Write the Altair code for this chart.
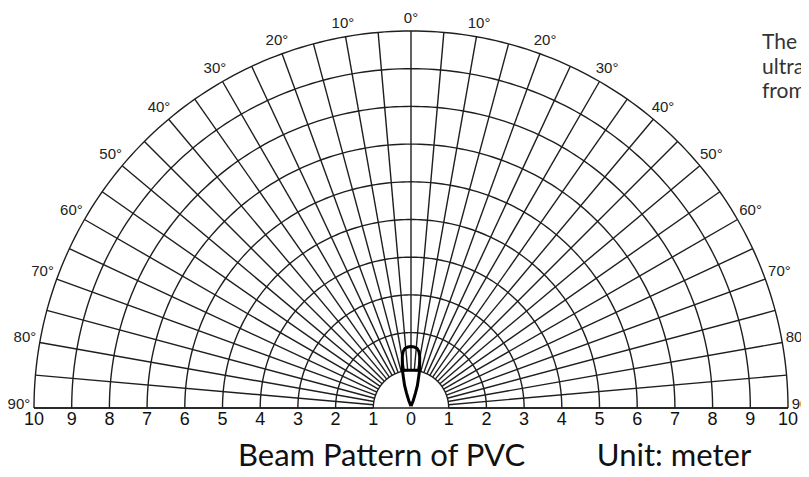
import altair as alt
import pandas as pd
import numpy as np

# ---- data ----
ring_radii = [1, 2, 3, 4, 5, 6, 7, 8, 9, 10]
spoke_angles = list(range(-90, 91, 5))
angle_label_values = [-90, -80, -70, -60, -50, -40, -30, -20, -10, 0, 10, 20, 30, 40, 50, 60, 70, 80, 90]
angle_label_text = ["90°", "80°", "70°", "60°", "50°", "40°", "30°", "20°", "10°", "0°",
                    "10°", "20°", "30°", "40°", "50°", "60°", "70°", "80°", "90°"]
tick_values = [-10, -9, -8, -7, -6, -5, -4, -3, -2, -1, 0, 1, 2, 3, 4, 5, 6, 7, 8, 9, 10]
tick_text = ["10", "9", "8", "7", "6", "5", "4", "3", "2", "1", "0",
             "1", "2", "3", "4", "5", "6", "7", "8", "9", "10"]

# beam pattern outline (meters): lower lobe with neck, and upper cap
beam_body_x = [0.0, 0.06, 0.12, 0.17, 0.20, 0.22, 0.23, -0.23, -0.22, -0.20, -0.17, -0.12, -0.06, 0.0]
beam_body_y = [0.05, 0.20, 0.40, 0.60, 0.80, 0.95, 1.00, 1.00, 0.95, 0.80, 0.60, 0.40, 0.20, 0.05]
beam_cap_x = [-0.23, -0.23, -0.21, -0.16, -0.08, 0.0, 0.08, 0.16, 0.21, 0.23, 0.23]
beam_cap_y = [1.00, 1.38, 1.50, 1.58, 1.62, 1.63, 1.62, 1.58, 1.50, 1.38, 1.00]

side_text = ["The", "ultra", "from"]
title_text = ["Beam Pattern of PVC", "Unit: meter"]

# ---- frames ----
R = 10
arc_rows = []
for r in ring_radii:
    for a in np.arange(-90, 90.5, 1.0):
        t = np.radians(a)
        arc_rows.append({"r": r, "a": a, "x": r * np.sin(t), "y": r * np.cos(t)})
arcs = pd.DataFrame(arc_rows)

spokes = pd.DataFrame([
    {"x": 1 * np.sin(np.radians(a)), "y": 1 * np.cos(np.radians(a)),
     "x2": R * np.sin(np.radians(a)), "y2": R * np.cos(np.radians(a))}
    for a in spoke_angles
])
base = pd.DataFrame([{"x": -R, "x2": R, "y": 0.0, "y2": 0.0}])

beam = pd.DataFrame(
    [{"part": "body", "i": i, "x": x, "y": y} for i, (x, y) in enumerate(zip(beam_body_x, beam_body_y))]
    + [{"part": "cap", "i": i, "x": x, "y": y} for i, (x, y) in enumerate(zip(beam_cap_x, beam_cap_y))]
)

ticks = pd.DataFrame({"x": tick_values, "y": [-0.33] * len(tick_values), "t": tick_text})

alab = pd.DataFrame({
    "x": [(R + 0.40) * np.sin(np.radians(a)) for a in angle_label_values],
    "y": [(R + 0.345) * np.cos(np.radians(a)) + 0.1 * abs(np.sin(np.radians(a))) for a in angle_label_values],
    "t": angle_label_text,
})

side = pd.DataFrame({"x": [9.31] * 3, "y": [9.68, 9.02, 8.38], "t": side_text})
titles = pd.DataFrame({"x": [-4.59, 4.93], "y": [-1.54, -1.54], "t": title_text})

# ---- chart ----
xs = alt.Scale(domain=[-10, 10], nice=False, zero=False)
ys = alt.Scale(domain=[0, 10], nice=False, zero=False)

def X(f="x"):
    return alt.X(f"{f}:Q", scale=xs, axis=None)

def Y(f="y"):
    return alt.Y(f"{f}:Q", scale=ys, axis=None)

grid_color = "#1e1e1e"

arc_layer = alt.Chart(arcs).mark_line(color=grid_color, strokeWidth=1.4).encode(
    x=X(), y=Y(), detail="r:N", order="a:Q")
spoke_layer = alt.Chart(spokes).mark_rule(color=grid_color, strokeWidth=1.4).encode(
    x=X(), y=Y(), x2="x2:Q", y2="y2:Q")
base_layer = alt.Chart(base).mark_rule(color=grid_color, strokeWidth=1.6).encode(
    x=X(), y=Y(), x2="x2:Q", y2="y2:Q")
beam_layer = alt.Chart(beam).mark_line(color="black", strokeWidth=3).encode(
    x=X(), y=Y(), detail="part:N", order="i:Q")

tick_layer = alt.Chart(ticks).mark_text(
    font="Liberation Sans", fontSize=18, color="#111", align="center", baseline="middle"
).encode(x=X(), y=Y(), text="t:N")
alab_layer = alt.Chart(alab).mark_text(
    font="Liberation Sans", fontSize=15, color="#222", align="center", baseline="middle"
).encode(x=X(), y=Y(), text="t:N")
side_layer = alt.Chart(side).mark_text(
    font="Lato", fontSize=21, color="#333", align="left", baseline="middle"
).encode(x=X(), y=Y(), text="t:N")
title_layer = alt.Chart(titles).mark_text(
    font="Lato", fontSize=31, color="#111", align="left", baseline="alphabetic"
).encode(x=X(), y=Y(), text="t:N")

chart = alt.layer(
    arc_layer, spoke_layer, base_layer, beam_layer,
    tick_layer, alab_layer, side_layer, title_layer
).properties(
    width=754, height=377,
    autosize=alt.AutoSizeParams(type="none"),
    padding={"left": 26, "top": 23, "right": 13, "bottom": 61},
    background="white",
).configure_view(stroke=None)

chart.save("out.html", embed_options={"renderer": "svg", "actions": False})
